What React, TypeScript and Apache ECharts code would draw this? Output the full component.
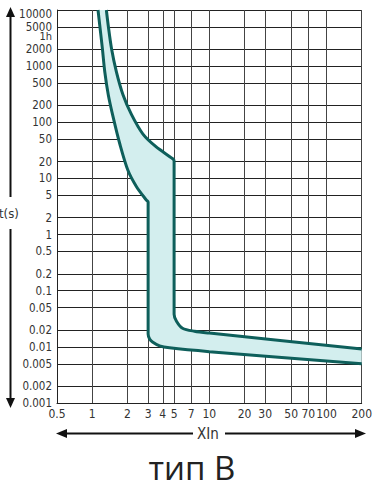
import React, { useEffect, useRef } from 'react';
import * as echarts from 'echarts';

// Axis ticks
const xTicks = [0.5, 1, 2, 3, 4, 5, 7, 10, 20, 30, 50, 70, 100, 200];
const yTicks = [0.001, 0.002, 0.005, 0.01, 0.02, 0.05, 0.1, 0.2, 0.5, 1, 2, 5, 10, 20, 50, 100, 200, 500, 1000, 2000, 5000, 10000];
const yLabelValues = [...yTicks, 3600];

// Upper boundary (multiples of In, time s)
const upperX = [1.32, 1.37, 1.46, 1.61, 1.83, 2.16, 2.71, 3.52, 4.87, 5, 5, 5.24, 5.9, 7.45, 10, 200];
const upperT = [10000, 5240, 2070, 785, 310, 138, 61.6, 36.4, 22.4, 20.5, 0.038, 0.0286, 0.0215, 0.019, 0.0176, 0.0092];
// Lower boundary
const lowerX = [1.12, 1.16, 1.22, 1.28, 1.37, 1.51, 1.72, 2.02, 2.38, 2.9, 3, 3, 3.09, 3.27, 3.76, 4.57, 10, 200];
const lowerT = [10000, 5240, 2070, 785, 310, 122, 41, 13.8, 7.2, 4.1, 3.8, 0.0169, 0.0138, 0.0122, 0.0104, 0.0096, 0.0082, 0.005];

const NARROW = "'Liberation Sans Narrow', 'DejaVu Sans Condensed', 'Arial Narrow', sans-serif";
const LINE = '#0e5f5b';
const FILL = '#d3eeee';

function fmt(v: number): string {
  const n = Number(Number(v).toPrecision(6));
  if (Math.abs(n - 3600) < 1) return '1h';
  return String(n);
}

export default function App() {
  const ref = useRef<HTMLDivElement>(null);
  useEffect(() => {
    document.body.style.margin = '0';
    const chart = echarts.init(ref.current!, null, { renderer: 'svg' });
    const upper = upperX.map((x, i) => [x, upperT[i]]);
    const lower = lowerX.map((x, i) => [x, lowerT[i]]);
    chart.setOption({
      animation: false,
      grid: { left: 57, right: 12, top: 4, bottom: 86, containLabel: false },
      xAxis: {
        type: 'log',
        logBase: 10,
        min: 0.5,
        max: 200,
        axisLine: { show: true, lineStyle: { color: '#222', width: 1 } },
        axisTick: { show: false, customValues: xTicks },
        axisLabel: {
          customValues: xTicks,
          formatter: (v: number) => fmt(v),
          fontFamily: NARROW,
          fontSize: 12,
          color: '#333',
          margin: 5,
        },
        splitLine: { show: true, lineStyle: { color: '#444', width: 1 } },
      },
      yAxis: {
        type: 'log',
        logBase: 10,
        min: 0.001,
        max: 10000,
        axisLine: { show: true, lineStyle: { color: '#222', width: 1 } },
        axisTick: { show: false, customValues: yTicks },
        axisLabel: {
          customValues: yLabelValues,
          formatter: (v: number) => {
            const s = fmt(v);
            if (s === '10000') return '{t|' + s + '}';
            if (s === '1h') return '{h|' + s + '}';
            return s;
          },
          rich: {
            t: { padding: [8, 0, 0, 0], lineHeight: 8, fontFamily: NARROW, fontSize: 11.5, color: '#333' },
            h: { padding: [4, 0, 0, 0], lineHeight: 8, fontFamily: NARROW, fontSize: 11, color: '#333' },
          },
          fontFamily: NARROW,
          fontSize: 11.5,
          lineHeight: 8,
          color: '#333',
          margin: 5,
        },
        splitLine: { show: true, lineStyle: { color: '#222', width: 1 } },
      },
      series: [
        {
          type: 'custom',
          coordinateSystem: 'cartesian2d',
          silent: true,
          z: 1,
          data: [[1, 1]],
          renderItem: (params: any, api: any) => {
            const pts: number[][] = [];
            for (let i = 0; i < upper.length; i++) pts.push(api.coord(upper[i]));
            for (let i = lower.length - 1; i >= 0; i--) pts.push(api.coord(lower[i]));
            return { type: 'polygon', shape: { points: pts }, style: { fill: FILL } };
          },
        },
        {
          type: 'line',
          data: upper,
          showSymbol: false,
          smooth: 0.3,
          z: 3,
          lineStyle: { color: LINE, width: 3 },
        },
        {
          type: 'line',
          data: lower,
          showSymbol: false,
          smooth: 0.3,
          z: 3,
          lineStyle: { color: LINE, width: 3 },
        },
      ],
      graphic: [
        { type: 'line', shape: { x1: 10.5, y1: 14, x2: 10.5, y2: 197 }, style: { stroke: '#111', lineWidth: 2 } },
        { type: 'line', shape: { x1: 10.5, y1: 229, x2: 10.5, y2: 400 }, style: { stroke: '#111', lineWidth: 2 } },
        { type: 'polygon', shape: { points: [[6, 17], [10.5, 7], [15, 17]] }, style: { fill: '#111' } },
        { type: 'polygon', shape: { points: [[6, 398], [10.5, 408], [15, 398]] }, style: { fill: '#111' } },
        { type: 'text', x: -1, y: 213, style: { text: 't(s)', fontFamily: NARROW, fontSize: 13, fill: '#333', verticalAlign: 'middle' } },
        { type: 'line', shape: { x1: 64, y1: 433.5, x2: 193, y2: 433.5 }, style: { stroke: '#111', lineWidth: 2 } },
        { type: 'line', shape: { x1: 225, y1: 433.5, x2: 358, y2: 433.5 }, style: { stroke: '#111', lineWidth: 2 } },
        { type: 'polygon', shape: { points: [[56, 433.5], [67, 429], [67, 438]] }, style: { fill: '#111' } },
        { type: 'polygon', shape: { points: [[366, 433.5], [355, 429], [355, 438]] }, style: { fill: '#111' } },
        { type: 'text', x: 208, y: 434, style: { text: 'XIn', fontFamily: NARROW, fontSize: 15, fill: '#333', align: 'center', verticalAlign: 'middle' } },
        { type: 'text', x: 192, y: 467, style: { text: 'тип В', fontFamily: "'Open Sans', sans-serif", fontSize: 33, lineHeight: 33, fill: '#222', align: 'center', verticalAlign: 'middle' } },
      ],
    });
    return () => chart.dispose();
  }, []);
  return <div ref={ref} style={{ position: 'absolute', left: 0, top: 0, width: 375, height: 489 }} />;
}
